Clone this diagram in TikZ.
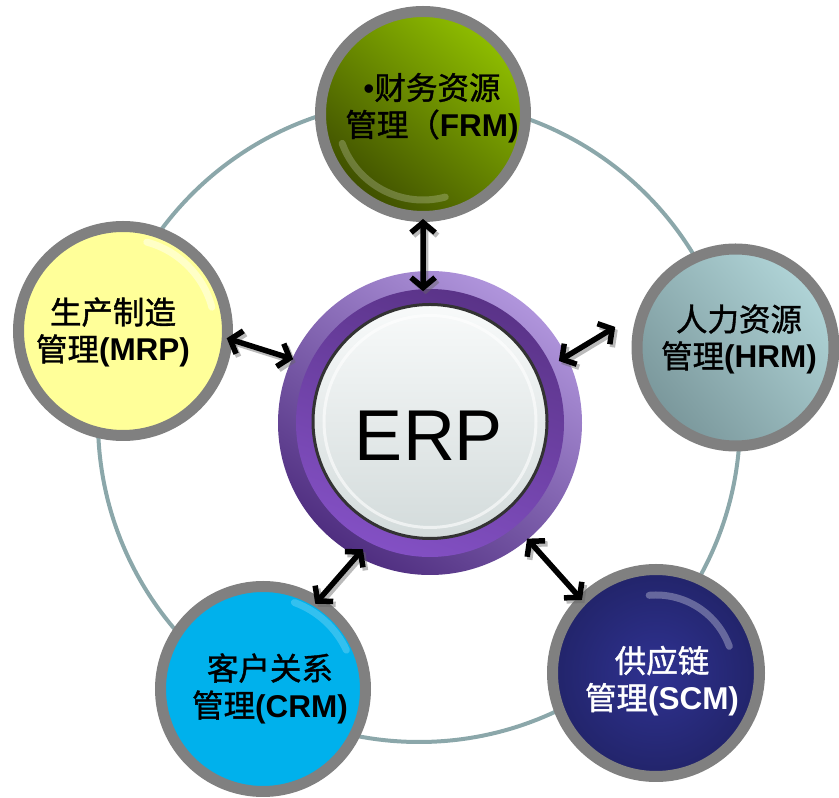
\documentclass[tikz,border=0pt]{standalone}
\usepackage{fontspec}
\setmainfont{Liberation Sans}
\newfontfamily\cjk{Noto Sans CJK SC}[FakeBold=1.2]
\usetikzlibrary{arrows.meta,calc}
\definecolor{ringgray}{HTML}{808080}
\definecolor{orbitc}{HTML}{8BA7AA}
\definecolor{frmlight}{HTML}{8FBE00}
\definecolor{frmdark}{HTML}{3E4E00}
\definecolor{mrpfill}{HTML}{FFFF99}
\definecolor{hrmlight}{HTML}{B0D4D7}
\definecolor{hrmdark}{HTML}{7A979B}
\definecolor{scmin}{HTML}{2F3291}
\definecolor{scmout}{HTML}{22246A}
\definecolor{crmfill}{HTML}{00B1EC}
\definecolor{erpouterlight}{HTML}{B095DC}
\definecolor{erpouterdark}{HTML}{4F2E80}
\definecolor{erpringlight}{HTML}{8350C4}
\definecolor{erpringdark}{HTML}{5A3388}
\definecolor{corelight}{HTML}{F8FAFA}
\definecolor{coredark}{HTML}{D3DBDB}
\newcommand{\erplink}[2]{%
  \draw[link, draw=black!60, opacity=.45, transform canvas={shift={(2.5pt,-3pt)}}] #1 -- #2;
  \draw[link] #1 -- #2;}
\begin{document}
\begin{tikzpicture}[x=1pt,y=1pt,
  sat/.style={circle,inner sep=0pt,draw=ringgray,line width=11pt,minimum size=#1},
  lbl/.style={align=center,font=\fontsize{31.5}{37}\selectfont,inner sep=0pt},
  link/.style={line width=5.5pt,{Straight Barb[length=10pt,width=24pt]}-{Straight Barb[length=10pt,width=24pt]}},
  gloss/.style={draw=white,line width=7pt,opacity=.22,line cap=round},
  orbit/.style={draw=orbitc,line width=4pt}]
\useasboundingbox (0,0) rectangle (839,798);
% orbit
\draw[orbit] (419,377) circle[radius=321];
% satellites
\node[sat=205, top color=frmlight, bottom color=frmdark, shading angle=-40] (frm) at (423,684) {};
\node[sat=209, fill=mrpfill] (mrp) at (123,467) {};
\node[sat=197, top color=hrmlight, bottom color=hrmdark, shading angle=-50] (hrm) at (735.5,450.5) {};
\node[sat=207, inner color=scmin, outer color=scmout] (scm) at (656,125) {};
\node[sat=205, fill=crmfill] (crm) at (263,109) {};
% gloss highlights
\draw[gloss] ($(frm.center)+(200:86)$) arc[start angle=200,end angle=285,radius=86];
\draw[gloss,opacity=.45] ($(mrp.center)+(15:92)$) arc[start angle=15,end angle=75,radius=92];
\draw[gloss,opacity=.3] ($(scm.center)+(20:78)$) arc[start angle=20,end angle=95,radius=78];
\draw[gloss,opacity=.2] ($(crm.center)+(25:92)$) arc[start angle=25,end angle=70,radius=92];
% ERP
\node[circle,inner sep=0pt,minimum size=304, top color=erpouterlight, bottom color=erpouterdark, shading angle=-35] (erp) at (430,375) {};
\node[circle,inner sep=0pt,minimum size=268, top color=erpringdark, bottom color=erpringlight, shading angle=-20] (erpring) at (erp.center) {};
\node[circle,inner sep=0pt,minimum size=234, draw=black!80, line width=3pt, top color=corelight, bottom color=coredark] (erpcore) at (430,376.5) {};
\draw[draw=white,line width=3pt,opacity=.6] (erpcore.center) circle[radius=106];
\node[inner sep=0pt,font=\fontsize{72}{72}\selectfont] (erptext) at (429,362) {ERP};
% labels
\node[lbl] (frmtext) at (432,690) {\textbullet{\cjk 财务资源}\\{\cjk 管理（}\textbf{FRM)}};
\node[lbl] (mrptext) at (113,465.5) {{\cjk 生产制造}\\{\cjk 管理}\textbf{(MRP)}};
\node[lbl] (hrmtext) at (739,458.5) {{\cjk 人力资源}\\{\cjk 管理}\textbf{(HRM)}};
\node[lbl,text=white] (scmtext) at (662,117) {{\cjk 供应链}\\{\cjk 管理}\textbf{(SCM)}};
\node[lbl] (crmtext) at (270,109.5) {{\cjk 客户关系}\\{\cjk 管理}\textbf{(CRM)}};
% connectors
\erplink{($(frm.center)+(-90:105)$)}{($(erp.center)+(93:132)$)}
\erplink{($(mrp.center)+(-4:104)$)}{($(erp.center)+(155:151)$)}
\erplink{($(hrm.center)+(170.3:122)$)}{($(erp.center)+(25.7:143)$)}
\erplink{($(crm.center)+(58.5:100)$)}{($(erp.center)+(-118:143)$)}
\erplink{($(scm.center)+(135.4:104)$)}{($(erp.center)+(-50:151)$)}
\end{tikzpicture}
\end{document}
